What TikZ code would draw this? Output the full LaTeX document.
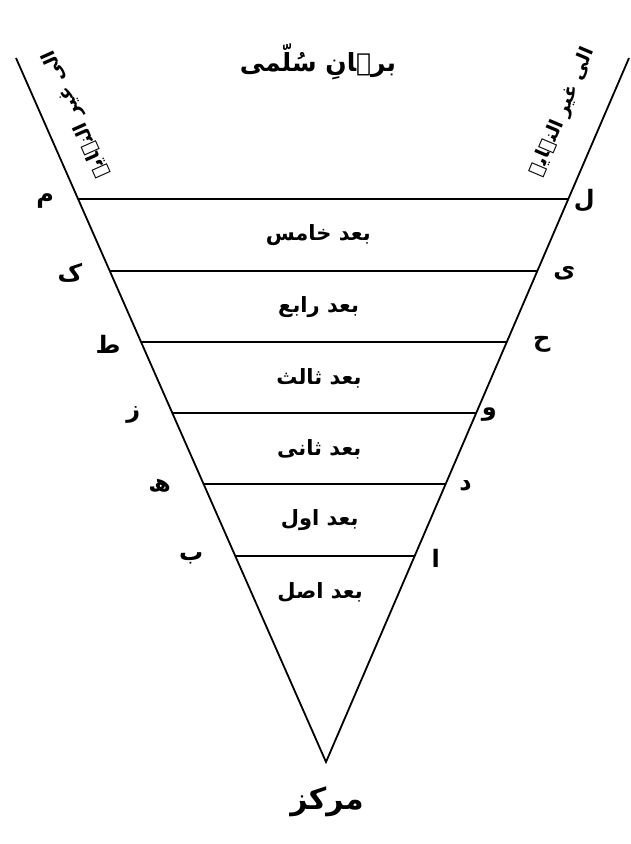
\documentclass[tikz,border=0pt]{standalone}
\usepackage{fontspec}
\usetikzlibrary{calc}
\TeXXeTstate=1
\newfontfamily\urdufont[Script=Arabic]{DejaVu Sans}
\definecolor{inkc}{HTML}{000000}
\newcommand{\ur}[1]{{\urdufont\bfseries\beginR #1\endR}}
\tikzset{
  side/.style ={draw=inkc,line width=1.8pt,line join=miter},
  rung/.style ={draw=inkc,line width=1.6pt},
  band/.style ={font=\fontsize{21}{24}\selectfont,text=inkc,inner sep=0pt},
  ltr/.style  ={font=\fontsize{24}{28}\selectfont,text=inkc,inner sep=0pt},
  ttl/.style  ={font=\fontsize{25}{28}\selectfont,text=inkc,inner sep=0pt},
  inf/.style  ={font=\fontsize{19}{22}\selectfont,text=inkc,inner sep=0pt},
}

\begin{document}
\begin{tikzpicture}[x=1pt,y=-1pt]
\useasboundingbox (0,0) rectangle (631,844);

\coordinate (apex) at (326,762);
\coordinate (topL) at (16,58);
\coordinate (topR) at (629,58);
\draw[side] (topL) -- (apex) -- (topR);

% rungs, from the bottom up: y / left letter / right letter / band / offsets
\foreach \y/\lft/\rgt/\nm/\dl/\dr [count=\i] in {
  556/ب/ا/بعد اصل/-44/21,
  484/ھ/د/بعد اول/-44/20,
  413/ز/و/بعد ثانی/-39/13,
  342/ط/ح/بعد ثالث/-33/35,
  271/ک/ی/بعد رابع/-40/27,
  199/م/ل/بعد خامس/-33/16}{
  \pgfmathsetmacro\pos{(762-\y)/704}
  \coordinate (l\i) at ($(apex)!\pos!(topL)$);
  \coordinate (r\i) at ($(apex)!\pos!(topR)$);
  \draw[rung] (l\i) -- (r\i);
  \node[band] (b\i) at ($(l\i)!.5!(r\i)+(-5,36)$) {\ur{\nm}};
  \node[ltr] (a\i) at ($(l\i)+(\dl,2)$) {\ur{\lft}};
  \node[ltr] (z\i) at ($(r\i)+(\dr,2)$) {\ur{\rgt}};
}

\node[ttl] (title) at (318,62) {\ur{برہانِ سُلّمی}};
\node[inf,rotate=114] (infL) at (76,114) {\ur{الی غیر النہایہ}};
\node[inf,rotate=67] (infR) at (563,112) {\ur{الی غیر النہایہ}};
\node[ttl,font=\fontsize{30}{34}\selectfont] (centre) at (327,802) {\ur{مرکز}};
\end{tikzpicture}
\end{document}
